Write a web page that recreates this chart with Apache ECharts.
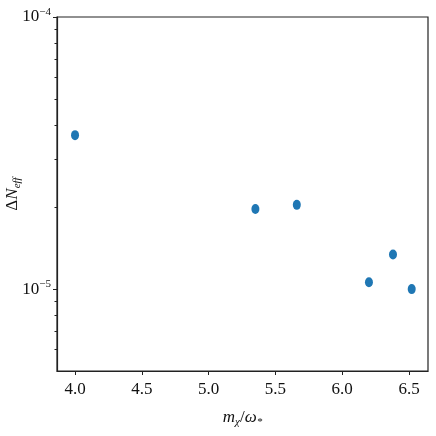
<!DOCTYPE html>
<html>
<head>
<meta charset="utf-8">
<script src="https://cdn.jsdelivr.net/npm/echarts@6/dist/echarts.min.js"></script>
<style>html,body{margin:0;background:#fff}#chart{width:436px;height:436px}</style>
</head>
<body>
<div id="chart"></div>
<script>
// data
const massRatio = [4.0, 5.35, 5.66, 6.20, 6.38, 6.52];
const deltaNeff = [3.68e-5, 1.97e-5, 2.04e-5, 1.06e-5, 1.34e-5, 1.0e-5];
const xTicks = [4.0, 4.5, 5.0, 5.5, 6.0, 6.5];
const yMajor = [1e-5, 1e-4];
const yMinor = [6e-6, 7e-6, 8e-6, 9e-6, 2e-5, 3e-5, 4e-5, 5e-5, 6e-5, 7e-5, 8e-5, 9e-5];
const yMin = 5e-6, yMax = 1e-4;
const xMin = 3.865, xMax = 6.642;

const font = 'Liberation Serif';
const lg = v => Math.log10(v);

const chart = echarts.init(document.getElementById('chart'));

// helper axes live in log10 space so ticks can be placed exactly
const helperAxis = (vals, len, labels) => ({
  type: 'value', position: 'left', min: lg(yMin), max: lg(yMax),
  axisLine: { show: false }, splitLine: { show: false },
  axisTick: { show: true, inside: false, length: len, customValues: vals.map(lg), lineStyle: { color: '#222', width: 1 } },
  axisLabel: labels ? {
    show: true, customValues: vals.map(lg), margin: 6,
    formatter: v => '{b|10}{e|' + (Math.round(v) < 0 ? '\u2212' : '') + Math.abs(Math.round(v)) + '}',
    rich: {
      b: { fontFamily: font, fontSize: 17, color: '#111' },
      e: { fontFamily: font, fontSize: 11, color: '#111', verticalAlign: 'bottom', padding: [0, 0, 9, 0] }
    }
  } : { show: false }
});

const subStyle = { fontFamily: font, fontStyle: 'italic', fontSize: 11, color: '#111', verticalAlign: 'bottom', padding: [10, 0, 0, 0] };

chart.setOption({
  animation: false,
  grid: { left: 57, right: 8, top: 17, bottom: 65, outerBoundsMode: 'none', containLabel: false, show: true, borderColor: '#222', borderWidth: 1.2 },
  xAxis: {
    type: 'value', min: xMin, max: xMax,
    axisLine: { lineStyle: { color: '#222', width: 1.2 } },
    splitLine: { show: false },
    axisTick: { inside: false, length: 4, customValues: xTicks, lineStyle: { color: '#222' } },
    axisLabel: { customValues: xTicks, margin: 10, fontFamily: font, fontSize: 17, color: '#111', formatter: v => v.toFixed(1) },
    name: '{i|m}{s|\u03c7}{n|/}{i|\u03c9}{s|*}',
    nameLocation: 'middle', nameGap: 36,
    nameTextStyle: {
      rich: {
        i: { fontFamily: font, fontStyle: 'italic', fontSize: 17, color: '#111' },
        n: { fontFamily: font, fontSize: 17, color: '#111' },
        s: subStyle
      }
    }
  },
  yAxis: [
    {
      type: 'log', logBase: 10, min: yMin, max: yMax,
      axisLine: { show: true, lineStyle: { color: '#222', width: 1.2 } },
      axisTick: { show: false }, axisLabel: { show: false }, splitLine: { show: false },
      name: '{n|\u0394}{i|N}{s|eff}',
      nameLocation: 'middle', nameGap: 34, nameRotate: 90,
      nameTextStyle: {
        rich: {
          i: { fontFamily: font, fontStyle: 'italic', fontSize: 17, color: '#111' },
          n: { fontFamily: font, fontSize: 17, color: '#111' },
          s: subStyle
        }
      }
    },
    helperAxis(yMajor, 4, true),
    helperAxis(yMinor, 2.5, false)
  ],
  series: [{
    type: 'scatter', yAxisIndex: 0,
    data: massRatio.map((x, i) => [x, deltaNeff[i]]),
    symbol: 'circle', symbolSize: [8, 10],
    itemStyle: { color: '#1f77b4', opacity: 1 }
  }]
});
</script>
</body>
</html>
